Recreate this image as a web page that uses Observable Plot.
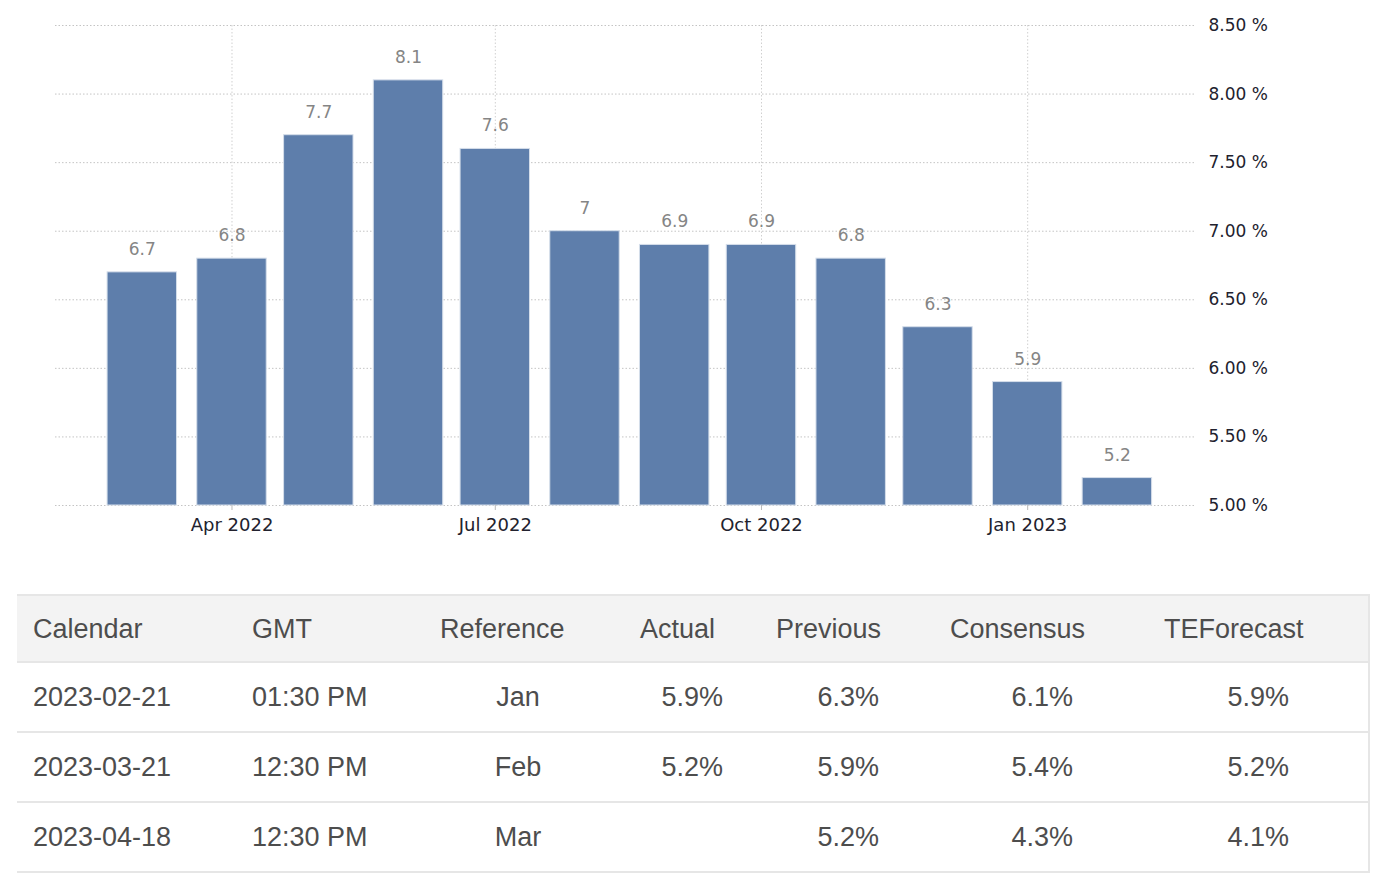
<!DOCTYPE html>
<html><head><meta charset="utf-8">
<script src="https://cdn.jsdelivr.net/npm/d3@7"></script>
<script src="https://cdn.jsdelivr.net/npm/@observablehq/plot@0.6"></script>
<style>
body{margin:0;background:#fff;width:1378px;height:886px;overflow:hidden;position:relative;}
#chart{position:absolute;left:0;top:0;}
#table{position:absolute;left:17px;top:594px;width:1353px;font-family:"Liberation Sans",Arial,sans-serif;font-size:27px;color:#4d4d4d;border-right:2px solid #e6e6e6;box-sizing:border-box;}
.row{position:relative;border-bottom:2px solid #e6e6e6;box-sizing:border-box;}
.head{background:#f3f3f3;height:69px;border-top:2px solid #e6e6e6;}
.body{height:70px;}
.cell{position:absolute;top:50%;transform:translateY(-50%);white-space:nowrap;}
</style></head><body>
<div id="chart"></div><div id="table"></div>
<script>
// ---- chart data ----
const months = ["2022-03-01","2022-04-01","2022-05-01","2022-06-01","2022-07-01","2022-08-01","2022-09-01","2022-10-01","2022-11-01","2022-12-01","2023-01-01","2023-02-01"];
const values = [6.7,6.8,7.7,8.1,7.6,7,6.9,6.9,6.8,6.3,5.9,5.2];
const xTicks = ["2022-04-01","2022-07-01","2022-10-01","2023-01-01"];
const yTicks = [5,5.5,6,6.5,7,7.5,8,8.5];

// ---- table data ----
const headers = ["Calendar","GMT","Reference","Actual","Previous","Consensus","TEForecast"];
const calendarDates = ["2023-02-21","2023-03-21","2023-04-18"];
const gmtTimes = ["01:30 PM","12:30 PM","12:30 PM"];
const references = ["Jan","Feb","Mar"];
const actuals = ["5.9%","5.2%",""];
const previous = ["6.3%","5.9%","5.2%"];
const consensus = ["6.1%","5.4%","4.3%"];
const teForecast = ["5.9%","5.2%","4.1%"];

const data = months.map((m,i)=>({date:new Date(m), value:values[i]}));
const xTickDates = xTicks.map(d=>new Date(d));

const chart = Plot.plot({
  width:1378, height:550, marginTop:25, marginBottom:45, marginLeft:55, marginRight:183,
  style:{fontFamily:"'DejaVu Sans', sans-serif", fontSize:"17px", color:"#333", background:"white"},
  x:{type:"utc", domain:[new Date("2022-01-30"), new Date("2023-02-28")], label:null},
  y:{domain:[5,8.5], label:null},
  marks:[
    Plot.gridY(yTicks,{stroke:"#c4c4c4", strokeOpacity:1, strokeDasharray:"1.5,2"}),
    Plot.gridX(xTickDates,{stroke:"#d0d0d0", strokeOpacity:1, strokeDasharray:"1.5,2"}),
    Plot.rectY(data,{x1:d=>d3.utcDay.offset(d.date,-12), x2:d=>d3.utcDay.offset(d.date,12), y1:5, y2:"value", fill:"#5e7eab", stroke:"#d5deea", strokeWidth:1}),
    Plot.text(data,{x:"date", y:"value", text:d=>String(d.value), lineAnchor:"middle", dy:-23, fill:"#858585", fontSize:17}),
    Plot.axisY(yTicks,{anchor:"right", label:null, tickSize:0, tickPadding:13, tickFormat:d=>d.toFixed(2)+" %", fill:"#22222e", fontSize:17}),
    Plot.axisX(xTickDates,{label:null, tickSize:5, stroke:"#bbb", tickPadding:8, tickFormat:d3.utcFormat("%b %Y"), fill:"#22222e", fontSize:18})
  ]
});
document.getElementById("chart").appendChild(chart);

// ---- table ----
const colsHead = [16,235,423,623,759,933,1147];
const colsData = [
  {pos:16, align:"left"},{pos:235, align:"left"},{pos:501, align:"center"},
  {pos:706, align:"right"},{pos:862, align:"right"},{pos:1056, align:"right"},{pos:1272, align:"right"}
];
const table = document.getElementById("table");
const head = document.createElement("div"); head.className="row head";
headers.forEach((h,i)=>{const s=document.createElement("span");s.className="cell";s.textContent=h;s.style.left=colsHead[i]+"px";head.appendChild(s);});
table.appendChild(head);
const columns = [calendarDates,gmtTimes,references,actuals,previous,consensus,teForecast];
calendarDates.forEach((_,r)=>{
  const row=document.createElement("div"); row.className="row body";
  columns.forEach((col,i)=>{
    const s=document.createElement("span"); s.className="cell"; s.textContent=col[r];
    const c=colsData[i];
    if(c.align==="left"){s.style.left=c.pos+"px";}
    else if(c.align==="right"){s.style.right=(1351-c.pos)+"px";}
    else {s.style.left=c.pos+"px"; s.style.transform="translate(-50%,-50%)";}
    row.appendChild(s);
  });
  table.appendChild(row);
});
</script>
</body></html>
